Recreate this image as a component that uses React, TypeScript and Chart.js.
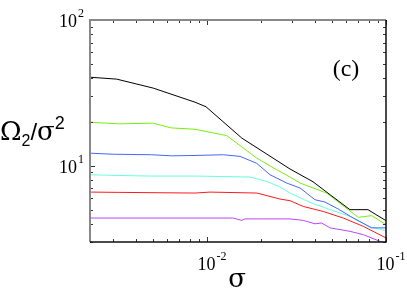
import { useEffect, useRef } from 'react';
import { Chart, registerables } from 'chart.js';

Chart.register(...registerables);

const sigmaBlack = [0.00222, 0.00313, 0.00501, 0.00857, 0.00987, 0.01563, 0.0291, 0.0391, 0.0487, 0.0629, 0.0793, 0.1];
const omegaBlack = [40.5, 39.3, 34.1, 27.3, 25.4, 15.5, 9.5, 7.77, 6.33, 5.0, 5.0, 4.2];

const sigmaGreen = [0.00222, 0.00319, 0.00501, 0.0063, 0.00857, 0.01288, 0.01895, 0.0245, 0.0291, 0.0331, 0.0392, 0.0466, 0.07, 0.0832, 0.1];
const omegaGreen = [19.9, 19.4, 19.6, 18.2, 17.8, 16.1, 11.3, 9.39, 8.37, 7.61, 7.04, 6.5, 4.43, 4.55, 3.94];

const sigmaBlue = [0.00222, 0.003, 0.00491, 0.00635, 0.00857, 0.01233, 0.0153, 0.01895, 0.0225, 0.0279, 0.0331, 0.0401, 0.0456, 0.0541, 0.0656, 0.0832, 0.1];
const omegaBlue = [12.2, 12.0, 11.9, 11.7, 11.77, 11.9, 11.6, 10.4, 8.68, 7.61, 7.04, 5.85, 5.64, 5.05, 4.38, 3.75, 3.75];

const sigmaCyan = [0.00222, 0.00319, 0.00491, 0.00857, 0.0174, 0.0216, 0.0256, 0.0291, 0.0376, 0.0487, 0.0629, 0.0814, 0.1];
const omegaCyan = [8.68, 8.58, 8.5, 8.5, 8.37, 7.81, 7.15, 6.5, 5.61, 5.0, 4.5, 3.8, 3.59];

const sigmaRed = [0.00222, 0.00319, 0.00857, 0.0104, 0.019, 0.0256, 0.0291, 0.0345, 0.0446, 0.0577, 0.0747, 0.1];
const omegaRed = [6.6, 6.57, 6.5, 6.6, 6.5, 5.91, 5.76, 5.26, 4.86, 4.38, 3.84, 3.2];

const sigmaMagenta = [0.00222, 0.00857, 0.014, 0.0156, 0.0163, 0.0291, 0.0345, 0.0401, 0.0437, 0.0487, 0.0629, 0.0747, 0.0926, 0.1];
const omegaMagenta = [4.38, 4.38, 4.38, 4.22, 4.32, 4.32, 4.22, 4.0, 4.05, 3.75, 3.55, 3.37, 3.03, 2.95];

const xMin = 0.00222;
const xMax = 0.1;
const yMin = 3;
const yMax = 100;

const xMinorTicks = [0.003, 0.004, 0.005, 0.006, 0.007, 0.008, 0.009, 0.02, 0.03, 0.04, 0.05, 0.06, 0.07, 0.08, 0.09];
const xMajorTicks = [0.01, 0.1];
const xMajorLabels = [{ v: 0.01, exp: '-2' }, { v: 0.1, exp: '-1' }];

const yMinorTicks = [3, 4, 5, 6, 7, 8, 9, 20, 30, 40, 50, 60, 70, 80, 90];
const yMajorTicks = [10, 100];
const yMajorLabels = [{ v: 10, exp: '1' }, { v: 100, exp: '2' }];

const panelLabel = '(c)';

function pts(xs: number[], ys: number[]) {
  return xs.map((x, i) => ({ x, y: ys[i] }));
}

const framePlugin = {
  id: 'frame',
  afterDraw(chart: any) {
    const { ctx, chartArea } = chart;
    const xs = chart.scales.x;
    const ys = chart.scales.y;
    const { left, right, top, bottom } = chartArea;
    ctx.save();
    ctx.strokeStyle = '#333';
    ctx.lineWidth = 1;
    const drawX = (v: number, len: number) => {
      const px = Math.round(xs.getPixelForValue(v)) + 0.5;
      ctx.beginPath();
      ctx.moveTo(px, bottom);
      ctx.lineTo(px, bottom - len);
      ctx.moveTo(px, top);
      ctx.lineTo(px, top + len);
      ctx.stroke();
    };
    const drawY = (v: number, len: number) => {
      const py = Math.round(ys.getPixelForValue(v)) + 0.5;
      ctx.beginPath();
      ctx.moveTo(left, py);
      ctx.lineTo(left + len, py);
      ctx.moveTo(right, py);
      ctx.lineTo(right - len, py);
      ctx.stroke();
    };
    xMinorTicks.forEach((v) => drawX(v, 3));
    xMajorTicks.forEach((v) => drawX(v, 5));
    yMinorTicks.forEach((v) => drawY(v, 3));
    yMajorTicks.forEach((v) => drawY(v, 5));

    ctx.lineWidth = 2;
    ctx.strokeStyle = '#888';
    ctx.beginPath();
    ctx.moveTo(left, bottom);
    ctx.lineTo(left, top);
    ctx.lineTo(right, top);
    ctx.stroke();
    ctx.strokeStyle = '#111';
    ctx.lineWidth = 1.5;
    ctx.beginPath();
    ctx.moveTo(right, top);
    ctx.lineTo(right, bottom);
    ctx.lineTo(left, bottom);
    ctx.stroke();

    ctx.fillStyle = '#000';
    ctx.textBaseline = 'alphabetic';
    const drawPow = (x: number, y: number, exp: string, align: 'center' | 'right') => {
      ctx.font = '18px "Liberation Serif"';
      const w10 = ctx.measureText('10').width;
      ctx.font = '12px "Liberation Serif"';
      const we = ctx.measureText(exp).width;
      const total = w10 + we + 1;
      const x0 = align === 'center' ? x - total / 2 : x - total;
      ctx.textAlign = 'left';
      ctx.font = '18px "Liberation Serif"';
      ctx.fillText('10', x0, y);
      ctx.font = '12px "Liberation Serif"';
      ctx.fillText(exp, x0 + w10 + 1, y - 10);
    };
    xMajorLabels.forEach((l) => {
      drawPow(xs.getPixelForValue(l.v) + 5, bottom + 28, l.exp, 'center');
    });
    yMajorLabels.forEach((l) => {
      drawPow(left - 6, ys.getPixelForValue(l.v) + 7, l.exp, 'right');
    });

    ctx.textAlign = 'center';
    ctx.font = '26px "DejaVu Serif"';
    ctx.fillText('σ', (left + right) / 2 - 1, bottom + 45);

    ctx.textAlign = 'left';
    let x = 0;
    const by = 140;
    ctx.font = '26px "DejaVu Serif"';
    ctx.fillText('Ω', x, by);
    x += ctx.measureText('Ω').width;
    ctx.font = '16px "Liberation Sans"';
    ctx.fillText('2', x, by + 6);
    x += ctx.measureText('2').width;
    ctx.font = '24px "Liberation Sans"';
    ctx.fillText('/', x, by);
    x += ctx.measureText('/').width;
    ctx.font = '26px "DejaVu Serif"';
    ctx.fillText('σ', x, by);
    x += ctx.measureText('σ').width;
    ctx.font = '18px "Liberation Sans"';
    ctx.fillText('2', x, by - 11);

    ctx.font = '24px "Liberation Serif"';
    ctx.textAlign = 'center';
    ctx.fillText(panelLabel, 346, 76);
    ctx.restore();
  },
};

export default function App() {
  const ref = useRef<HTMLCanvasElement>(null);
  useEffect(() => {
    document.body.style.margin = '0';
    const mk = (label: string, xs: number[], ys: number[], color: string) => ({
      label,
      data: pts(xs, ys),
      borderColor: color,
      backgroundColor: color,
      borderWidth: 1,
      pointRadius: 0,
      showLine: true,
      tension: 0,
    });
    const chart = new Chart(ref.current!, {
      type: 'scatter',
      data: {
        datasets: [
          mk('black', sigmaBlack, omegaBlack, '#000000'),
          mk('green', sigmaGreen, omegaGreen, '#77ee11'),
          mk('blue', sigmaBlue, omegaBlue, '#4466ff'),
          mk('cyan', sigmaCyan, omegaCyan, '#66ffdd'),
          mk('red', sigmaRed, omegaRed, '#ff1a1a'),
          mk('magenta', sigmaMagenta, omegaMagenta, '#bb44ff'),
        ],
      },
      options: {
        responsive: false,
        animation: false,
        layout: { padding: { left: 90, top: 20, right: 21, bottom: 59 } },
        plugins: { legend: { display: false }, tooltip: { enabled: false } },
        scales: {
          x: { type: 'logarithmic', min: xMin, max: xMax, display: false },
          y: { type: 'logarithmic', min: yMin, max: yMax, display: false },
        },
      },
      plugins: [framePlugin],
    });
    return () => chart.destroy();
  }, []);
  return (
    <div style={{ position: 'absolute', left: 0, top: 0, width: 407, height: 301 }}>
      <canvas ref={ref} width={407} height={301} style={{ width: 407, height: 301 }} />
    </div>
  );
}
